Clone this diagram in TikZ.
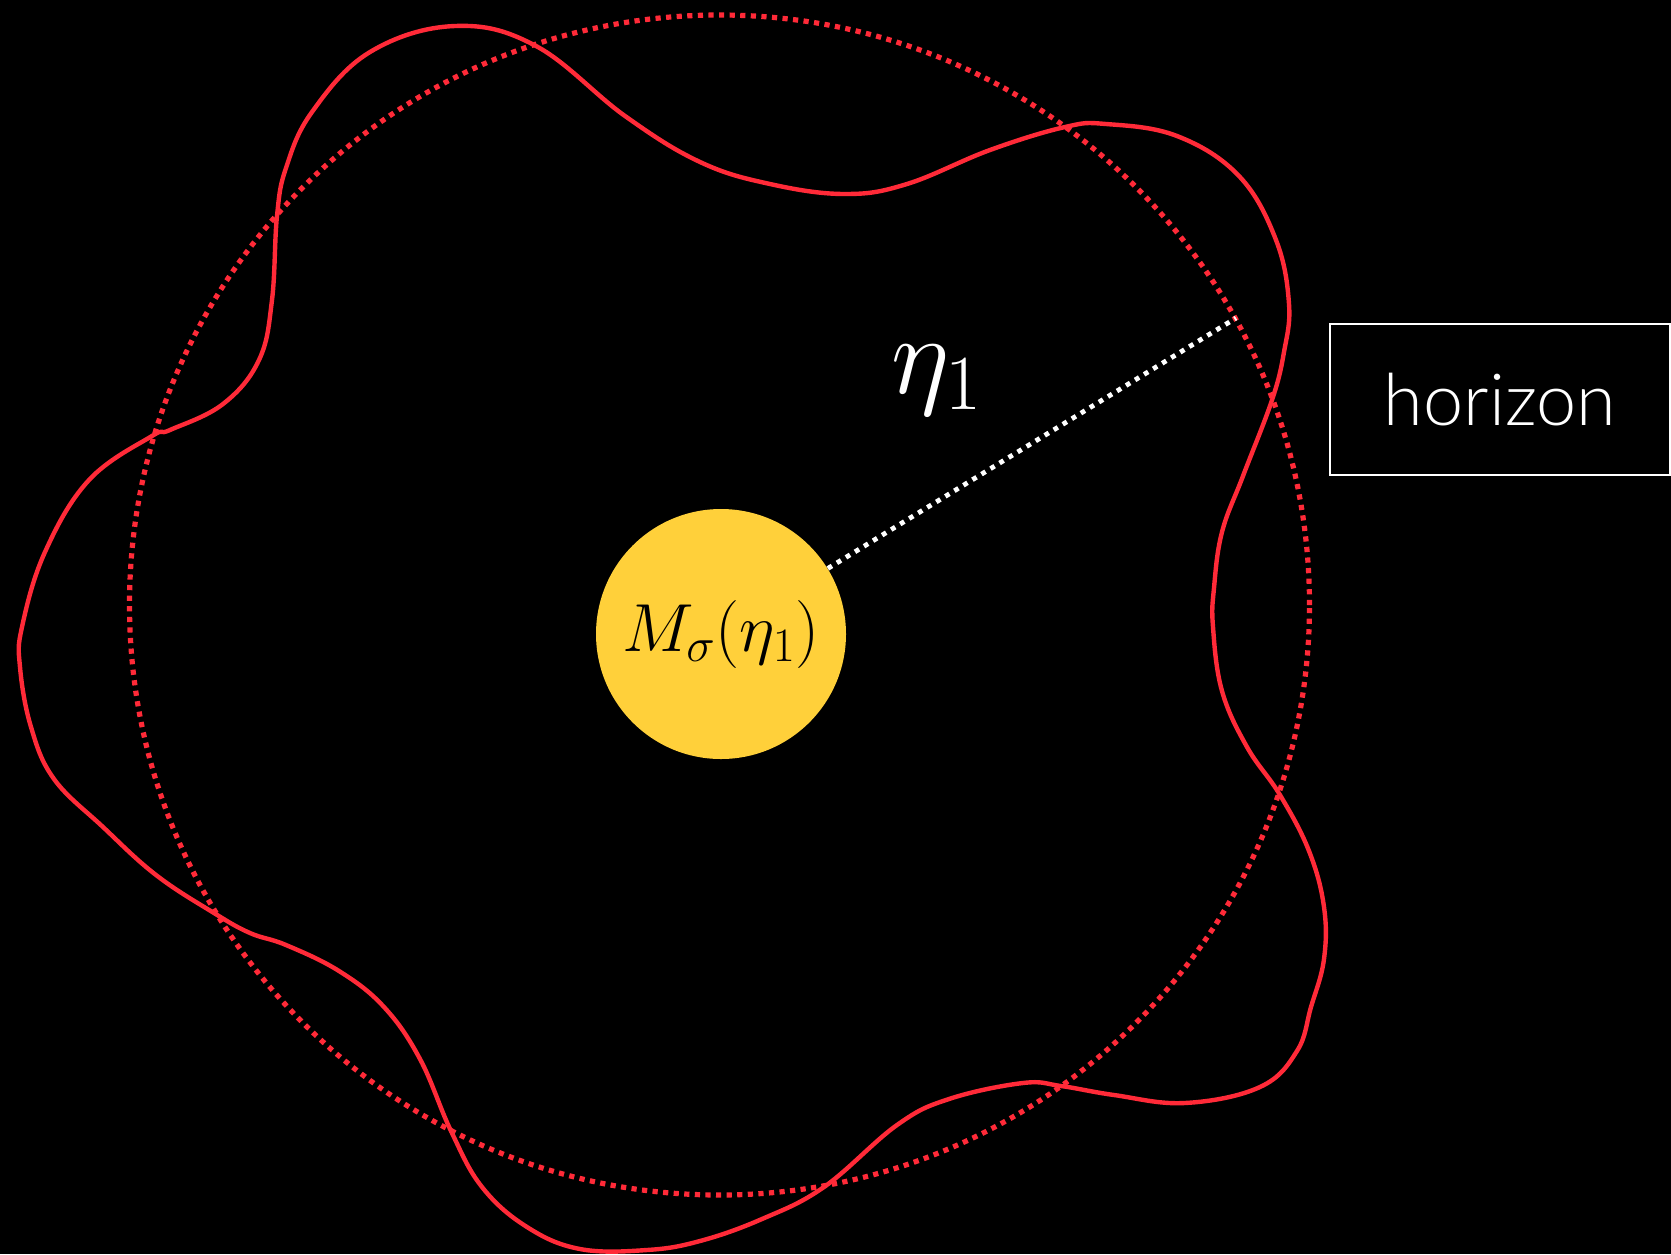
\RequirePackage{fix-cm}
\documentclass[tikz,border=0pt]{standalone}
\usepackage{fontspec}
\newfontfamily\horizonfont{Lato Light}
\DeclareMathSizes{56}{56}{39}{28}
\DeclareMathSizes{34}{34}{24}{17}
\definecolor{hred}{RGB}{255,42,56}
\definecolor{sunyellow}{RGB}{255,208,58}
\tikzset{
  wavy/.style={draw=hred, line width=2.2pt, line join=round},
  reddots/.style={draw=hred, line width=2.6pt, dash pattern=on 2.6pt off 2.7pt},
  whitedots/.style={draw=white, line width=2.4pt, dash pattern=on 2.4pt off 2.9pt},
  sun/.style={circle, fill=sunyellow, inner sep=0pt, minimum size=125pt, text=black, font=\fontsize{34}{40}\selectfont},
  labelbox/.style={draw=white, line width=1pt, text=white, minimum width=170pt, minimum height=75.5pt, inner sep=0pt, font=\horizonfont\fontsize{36}{40}\selectfont},
  etalabel/.style={text=white, font=\fontsize{56}{60}\selectfont, inner sep=0pt, anchor=base}
}
\begin{document}
\begin{tikzpicture}[x=0.5pt,y=-0.5pt]
\fill[black] (0,0) rectangle (1671,1254);
\useasboundingbox (0,0) rectangle (1671,1254);
% horizon (dotted circle)
\draw[reddots] (719.5,605) circle [radius=295pt];
% perturbed horizon
\draw[wavy] plot[smooth cycle, tension=0.65] coordinates {
(455,26) (536,46) (625,116) (700,162) (770,184) (845,194) (907,184) (990,150)
(1065,127) (1106,124) (1177,136) (1239,176) (1276,240) (1289,304) (1284,352)
(1272,400) (1243,476) (1222,532) (1214,588) (1213,627) (1222,691) (1247,747)
(1280,795) (1309,851) (1324,907) (1324,959) (1311,1007) (1297,1051) (1260,1087)
(1185,1103) (1114,1095) (1061,1086) (1023,1083) (949,1099) (897,1125) (824,1187)
(762,1219) (700,1241) (647,1250) (580,1249) (527,1227) (482,1187) (451,1131)
(420,1059) (384,1007) (339,971) (286,945) (250,933) (214,913) (156,875)
(103,827) (54,779) (31,727) (20,667) (22,627) (45,552) (89,480) (152,436)
(170,430) (223,404) (259,360) (272,300) (277,216) (286,168) (312,112) (370,52)
};
\node[sun] (mass) at (721,634) {$M_\sigma(\eta_1)$};
\coordinate (tip) at (1236,318);
\draw[whitedots] (mass) -- (tip);
\node[etalabel] (eta) at (937,393) {$\eta_1$};
\node[labelbox] (hz) at (1500,399.5) {horizon};
\end{tikzpicture}
\end{document}
